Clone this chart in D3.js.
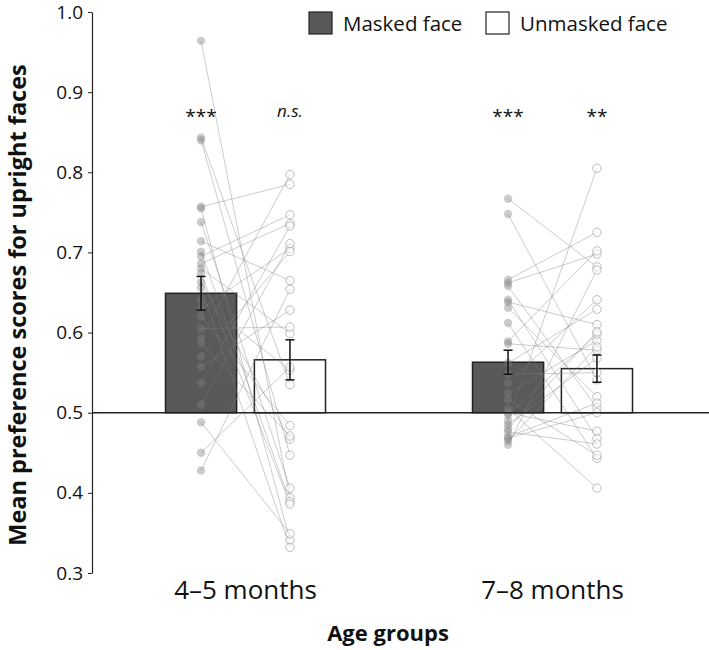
<!DOCTYPE html>
<html>
<head>
<meta charset="utf-8">
<script src="https://cdn.jsdelivr.net/npm/d3@7"></script>
<style>
  body { margin: 0; background: #fff; }
  svg { font-family: "Open Sans", sans-serif; }
</style>
</head>
<body>
<svg width="709" height="650"></svg>
<script>
// groups and conditions
var groups = ["4\u20135 months", "7\u20138 months"];
var conds = ["Masked face", "Unmasked face"];

// bar means and standard errors, one entry per group
var maskedMean = [0.649, 0.563];
var maskedSE = [0.021, 0.015];
var unmaskedMean = [0.566, 0.555];
var unmaskedSE = [0.025, 0.017];

// significance marks
var maskedSig = ["***", "***"];
var unmaskedSig = ["n.s.", "**"];

// individual infants, paired (masked[i] -> unmasked[i])
var masked45 = [0.964, 0.843, 0.840, 0.757, 0.755, 0.738, 0.714, 0.701, 0.695, 0.686, 0.680, 0.674, 0.663, 0.656,
  0.640, 0.630, 0.620, 0.605, 0.593, 0.587, 0.570, 0.557, 0.537, 0.510, 0.488, 0.450, 0.428];
var unmasked45 = [0.394, 0.535, 0.447, 0.785, 0.341, 0.406, 0.665, 0.389, 0.747, 0.736, 0.599, 0.386, 0.467, 0.332,
  0.553, 0.705, 0.484, 0.607, 0.797, 0.471, 0.701, 0.628, 0.733, 0.711, 0.349, 0.557, 0.654];
var masked78 = [0.767, 0.748, 0.666, 0.662, 0.658, 0.641, 0.638, 0.631, 0.612, 0.589, 0.586, 0.562, 0.548, 0.537,
  0.524, 0.516, 0.505, 0.500, 0.497, 0.490, 0.485, 0.480, 0.476, 0.470, 0.468, 0.465, 0.460];
var unmasked78 = [0.682, 0.541, 0.725, 0.698, 0.506, 0.468, 0.610, 0.520, 0.443, 0.702, 0.578, 0.629, 0.550, 0.641,
  0.590, 0.447, 0.406, 0.477, 0.598, 0.805, 0.568, 0.601, 0.461, 0.512, 0.500, 0.582, 0.678];

var yTicks = [0.3, 0.4, 0.5, 0.6, 0.7, 0.8, 0.9, 1.0];

var svg = d3.select("svg");
var pLeft = 92, pRight = 706, pTop = 12, pBottom = 573;

var y = d3.scaleLinear().domain([0.3, 1.0]).range([pBottom, pTop]);
var x0 = d3.scalePoint().domain(groups).range([pLeft, pRight]).padding(0.5);
var x1 = d3.scaleBand().domain(conds).range([-80, 80]).paddingInner(0.2);

var bars = [];
groups.forEach(function(g, i) {
  bars.push({g: g, c: conds[0], m: maskedMean[i], se: maskedSE[i], sig: maskedSig[i]});
  bars.push({g: g, c: conds[1], m: unmaskedMean[i], se: unmaskedSE[i], sig: unmaskedSig[i]});
});
var fills = {"Masked face": "#595959", "Unmasked face": "#ffffff"};

function cx(g, c) { return x0(g) + x1(c) + x1.bandwidth() / 2; }

// bars (from the 0.5 chance line)
svg.append("g").selectAll("rect").data(bars).enter().append("rect")
  .attr("x", function(d) { return x0(d.g) + x1(d.c); })
  .attr("y", function(d) { return y(d.m); })
  .attr("width", x1.bandwidth())
  .attr("height", function(d) { return y(0.5) - y(d.m); })
  .attr("fill", function(d) { return fills[d.c]; })
  .attr("stroke", "#222")
  .attr("stroke-width", 1.5);

// individual lines + points
var pairs = [];
masked45.forEach(function(v, i) { pairs.push({g: groups[0], a: v, b: unmasked45[i]}); });
masked78.forEach(function(v, i) { pairs.push({g: groups[1], a: v, b: unmasked78[i]}); });

var ind = svg.append("g");
ind.selectAll("line").data(pairs).enter().append("line")
  .attr("x1", function(d) { return cx(d.g, conds[0]); })
  .attr("x2", function(d) { return cx(d.g, conds[1]); })
  .attr("y1", function(d) { return y(d.a); })
  .attr("y2", function(d) { return y(d.b); })
  .attr("stroke", "#808080")
  .attr("stroke-opacity", 0.4)
  .attr("stroke-width", 1);

ind.selectAll("circle.m").data(pairs).enter().append("circle")
  .attr("class", "m")
  .attr("cx", function(d) { return cx(d.g, conds[0]); })
  .attr("cy", function(d) { return y(d.a); })
  .attr("r", 4.2)
  .attr("fill", "#808080")
  .attr("fill-opacity", 0.4);

ind.selectAll("circle.u").data(pairs).enter().append("circle")
  .attr("class", "u")
  .attr("cx", function(d) { return cx(d.g, conds[1]); })
  .attr("cy", function(d) { return y(d.b); })
  .attr("r", 4.2)
  .attr("fill", "#fff")
  .attr("fill-opacity", 0.5)
  .attr("stroke", "#808080")
  .attr("stroke-opacity", 0.5)
  .attr("stroke-width", 1);

// error bars
var eb = svg.append("g").attr("stroke", "#111").attr("stroke-width", 1.5);
bars.forEach(function(d) {
  var x = cx(d.g, d.c);
  eb.append("line").attr("x1", x).attr("x2", x).attr("y1", y(d.m + d.se)).attr("y2", y(d.m - d.se));
  eb.append("line").attr("x1", x - 4.5).attr("x2", x + 4.5).attr("y1", y(d.m + d.se)).attr("y2", y(d.m + d.se));
  eb.append("line").attr("x1", x - 4.5).attr("x2", x + 4.5).attr("y1", y(d.m - d.se)).attr("y2", y(d.m - d.se));
});

// chance line
svg.append("line")
  .attr("x1", pLeft).attr("x2", 709)
  .attr("y1", y(0.5)).attr("y2", y(0.5))
  .attr("stroke", "#222").attr("stroke-width", 1.5);

// y axis
var yAxis = svg.append("g")
  .attr("transform", "translate(" + pLeft + ",0)")
  .call(d3.axisLeft(y).tickValues(yTicks).tickFormat(d3.format(".1f")).tickSize(4).tickSizeOuter(0));
yAxis.select(".domain").attr("stroke", "#222").attr("stroke-width", 1.2);
yAxis.selectAll(".tick line").attr("stroke", "#222");
yAxis.selectAll(".tick text")
  .attr("font-size", 19).attr("fill", "#111").attr("x", -9)
  .style("font-family", "'Open Sans', sans-serif");

// x category labels
svg.append("g").selectAll("text").data(groups).enter().append("text")
  .attr("x", function(d) { return x0(d); })
  .attr("y", 599)
  .attr("text-anchor", "middle")
  .attr("font-size", 26)
  .attr("fill", "#111")
  .text(function(d) { return d; });

// significance stars
svg.append("g").selectAll("text").data(bars).enter().append("text")
  .attr("x", function(d) { return cx(d.g, d.c); })
  .attr("y", function(d) { return d.sig == "n.s." ? 117 : 123; })
  .attr("text-anchor", "middle")
  .attr("font-size", function(d) { return d.sig == "n.s." ? 17 : 19; })
  .attr("font-style", function(d) { return d.sig == "n.s." ? "italic" : "normal"; })
  .attr("fill", "#111")
  .text(function(d) { return d.sig; });

// axis titles
svg.append("text")
  .attr("x", 388).attr("y", 641)
  .attr("text-anchor", "middle")
  .attr("font-size", 22).attr("font-weight", "bold")
  .attr("fill", "#111")
  .text("Age groups");

svg.append("text")
  .attr("transform", "translate(26,305) rotate(-90)")
  .attr("text-anchor", "middle")
  .attr("font-size", 23.5).attr("font-weight", "bold")
  .attr("fill", "#111")
  .text("Mean preference scores for upright faces");

// legend
var legX = [309, 486];
var leg = svg.append("g").selectAll("g").data(conds).enter().append("g")
  .attr("transform", function(d, i) { return "translate(" + legX[i] + ",12)"; });
leg.append("rect")
  .attr("width", 23).attr("height", 22)
  .attr("fill", function(d) { return fills[d]; })
  .attr("stroke", "#222").attr("stroke-width", 1.2);
leg.append("text")
  .attr("x", 34).attr("y", 19)
  .attr("font-size", 20.5)
  .attr("fill", "#111")
  .text(function(d) { return d; });
</script>
</body>
</html>
